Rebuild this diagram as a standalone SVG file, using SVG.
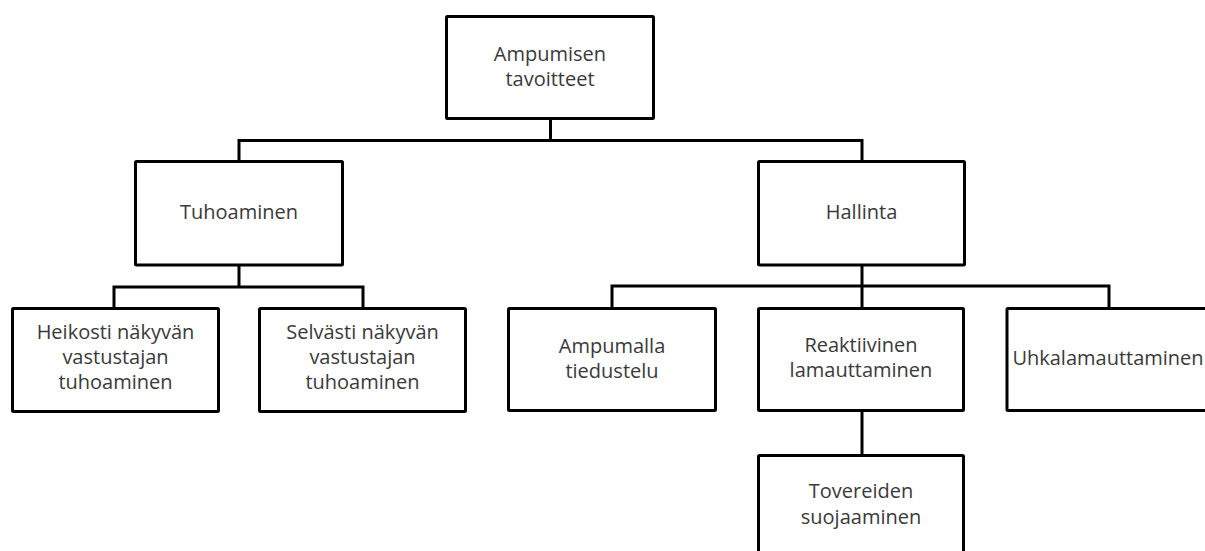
<svg xmlns="http://www.w3.org/2000/svg" width="1205" height="551" viewBox="0 0 1205 551">
<style>
.box{fill:#fff;stroke:#000;stroke-width:3}
.lbl{font-family:"Open Sans","Liberation Sans",sans-serif;font-size:20px;fill:#3a3a3a;text-anchor:middle}
.con{fill:none;stroke:#000;stroke-width:3;stroke-linecap:square}
</style>
<rect width="1205" height="551" fill="#fff"/>
<g id="connectors">
<path class="con" d="M550.5 118V140.5M239 140.5H862M239 140.5V161M862 140.5V161"/>
<path class="con" d="M239 265V287M114 287H363M114 287V308M363 287V308"/>
<path class="con" d="M862 265V286M612 286H1109M612 286V308M862 286V308M1109 286V308"/>
<path class="con" d="M862 410V455"/>
</g>
<g id="n-root"><rect class="box" x="446.5" y="16.5" width="207" height="102" rx="1"/><text class="lbl" x="550" y="61">Ampumisen</text><text class="lbl" x="550" y="86">tavoitteet</text></g>
<g id="n-tuho"><rect class="box" x="135.5" y="161.5" width="207" height="103.5" rx="1"/><text class="lbl" x="239" y="219">Tuhoaminen</text></g>
<g id="n-hallinta"><rect class="box" x="758.5" y="161.5" width="206" height="103.5" rx="1"/><text class="lbl" x="861.5" y="219">Hallinta</text></g>
<g id="n-heikosti"><rect class="box" x="12.5" y="308.5" width="206" height="103" rx="1"/><text class="lbl" x="115.5" y="339">Heikosti näkyvän</text><text class="lbl" x="115.5" y="364">vastustajan</text><text class="lbl" x="115.5" y="389">tuhoaminen</text></g>
<g id="n-selvasti"><rect class="box" x="259.5" y="308.5" width="206" height="103" rx="1"/><text class="lbl" x="362.5" y="339">Selvästi näkyvän</text><text class="lbl" x="362.5" y="364">vastustajan</text><text class="lbl" x="362.5" y="389">tuhoaminen</text></g>
<g id="n-ampumalla"><rect class="box" x="508.5" y="308.5" width="207" height="102" rx="1"/><text class="lbl" x="612" y="353">Ampumalla</text><text class="lbl" x="612" y="378">tiedustelu</text></g>
<g id="n-reaktiivinen"><rect class="box" x="758.5" y="308.5" width="205" height="102" rx="1"/><text class="lbl" x="861" y="352">Reaktiivinen</text><text class="lbl" x="861" y="377">lamauttaminen</text></g>
<g id="n-uhka"><rect class="box" x="1007" y="308.5" width="206" height="102" rx="1"/><text class="lbl" x="1108" y="365">Uhkalamauttaminen</text></g>
<g id="n-tovereiden"><rect class="box" x="758.5" y="455.5" width="205" height="102" rx="1"/><text class="lbl" x="861" y="498">Tovereiden</text><text class="lbl" x="861" y="524">suojaaminen</text></g>
</svg>
